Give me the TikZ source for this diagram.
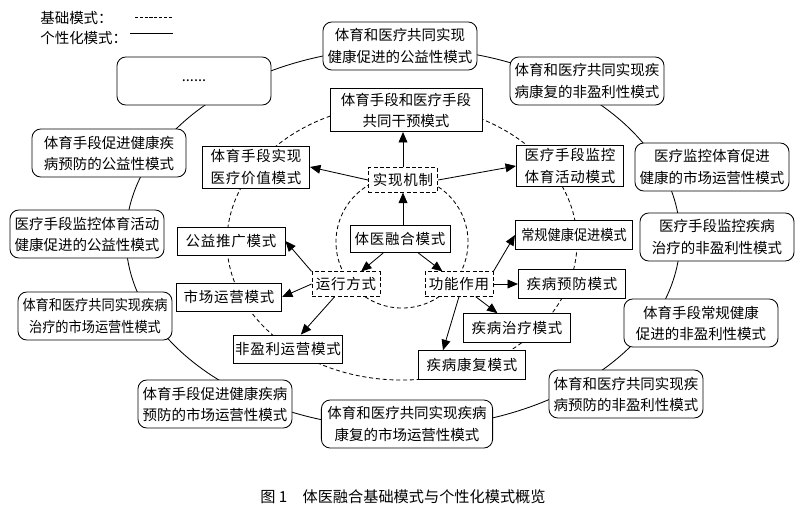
\documentclass[tikz,border=0pt]{standalone}
\usepackage{fontspec}
\setmainfont{Liberation Serif}
\newfontfamily\cjk{Noto Sans CJK SC}
\newfontfamily\cjknarrow{Noto Sans CJK SC}[FakeStretch=0.91]
\newfontfamily\cjkwide{Noto Sans CJK SC}[LetterSpace=5]
\usepackage{tikz}
\usetikzlibrary{positioning,shapes,arrows.meta}
\pgfdeclarelayer{background}
\pgfsetlayers{background,main}
\tikzstyle{outermode}=[rectangle, draw=black, line width=0.6pt, rounded corners=0.22cm, fill=white,
        text centered, align=center, minimum width=3.85cm, minimum height=1.2cm, inner sep=1pt,
        font=\cjk\fontsize{10.3}{15}\selectfont]
\tikzstyle{basemode}=[rectangle, draw=black, line width=0.6pt, fill=white,
        text centered, align=center, minimum width=2.68cm, minimum height=0.72cm, inner sep=1pt,
        font=\cjkwide\fontsize{10.3}{15}\selectfont]
\tikzstyle{core}=[basemode, dashed, dash pattern=on 1mm off 0.6mm, minimum width=1.7cm, minimum height=0.61cm]
\tikzstyle{line}=[line width=0.6pt, -{Triangle[length=2.6mm,width=2.2mm]}]
\tikzstyle{legend}=[anchor=west, inner sep=0pt, font=\cjk\fontsize{10.3}{15}\selectfont]

\begin{document}
\begin{tikzpicture}[x=0.025cm, y=-0.025cm]
\useasboundingbox (0,0) rectangle (800,515);

% legend
\node (legbase) [legend] at (40,18) {基础模式：};
\node (legind) [legend] at (40,38) {个性化模式：};
\coordinate (basea) at (135,17);
\coordinate (baseb) at (173,17);
\coordinate (inda) at (130,33);
\coordinate (indb) at (173,33);
\draw[line width=0.6pt, dash pattern=on 0.08cm off 0.04cm] (basea) -- (baseb);
\draw[line width=0.6pt] (inda) -- (indb);

% individual modes (outer ring)
\node (healthpub) [outermode] at (400,46) {体育和医疗共同实现\\健康促进的公益性模式};
\node (rehabnp) [outermode] at (587,81) {体育和医疗共同实现疾\\病康复的非盈利性模式};
\node (monmkt) [outermode] at (712,167) {医疗监控体育促进\\健康的市场运营性模式};
\node (treatnp) [outermode] at (717,237) {医疗手段监控疾病\\治疗的非盈利性模式};
\node (routinenp) [outermode] at (701,323) {体育手段常规健康\\促进的非盈利性模式};
\node (prevnp) [outermode] at (626,394) {体育和医疗共同实现疾\\病预防的非盈利性模式};
\node (rehabmkt) [outermode, minimum width=4.28cm] at (407,424) {体育和医疗共同实现疾病\\康复的市场运营性模式};
\node (prevmkt) [outermode] at (215,404) {体育手段促进健康疾病\\预防的市场运营性模式};
\node (treatmkt) [outermode, font=\cjknarrow\fontsize{10.3}{15}\selectfont] at (95,316) {体育和医疗共同实现疾病\\治疗的市场运营性模式};
\node (monpub) [outermode] at (87,234) {医疗手段监控体育活动\\健康促进的公益性模式};
\node (prevpub) [outermode] at (109,153) {体育手段促进健康疾\\病预防的公益性模式};
\node (others) [outermode] at (194,81) {......};

% basic modes (middle ring)
\node (jointint) [basemode, minimum width=3.8cm, minimum height=1.08cm, font=\cjk\fontsize{10.3}{15}\selectfont] at (406,110) {体育手段和医疗手段\\共同干预模式};
\node (sportmed) [basemode, minimum height=1.05cm] at (256,167) {体育手段实现\\医疗价值模式};
\node (medsport) [basemode, minimum height=1.04cm] at (570,166) {医疗手段监控\\体育活动模式};
\node (pubpromo) [basemode, minimum width=2.7cm, minimum height=0.7cm] at (231,241) {公益推广模式};
\node (market) [basemode, minimum width=2.63cm, minimum height=0.7cm] at (229,297) {市场运营模式};
\node (nonprofit) [basemode, minimum height=0.7cm] at (288,349) {非盈利运营模式};
\node (rehab) [basemode] at (472,365) {疾病康复模式};
\node (treat) [basemode] at (517,328) {疾病治疗模式};
\node (prevent) [basemode] at (572,284) {疾病预防模式};
\node (routine) [basemode, minimum width=2.93cm, font=\cjknarrow\fontsize{10.3}{15}\selectfont] at (574,235) {常规健康促进模式};

% core
\node (fusion) [basemode, minimum width=2.5cm, minimum height=0.68cm] at (400,239) {体医融合模式};
\node (mechanism) [core, minimum width=1.73cm] at (403,180) {实现机制};
\node (operation) [core] at (346,284) {运行方式};
\node (function) [core] at (459,284) {功能作用};

% draw lines
\draw[line] (fusion.north -| mechanism.south) -- (mechanism.south);
\draw[line] (mechanism.north) -- (mechanism.north |- jointint.south);
\draw[line] (mechanism.west) -- (sportmed.east);
\draw[line] (mechanism.east) -- (medsport.west);
\draw[line] (fusion) -- (operation);
\draw[line] (fusion) -- (function);
\draw[line] (operation.north west) -- (pubpromo.east);
\draw[line] (operation.west) -- (market.east);
\draw[line] (operation) -- (nonprofit);
\draw[line] (function.north east) -- (routine.west);
\draw[line] (function.east) -- (prevent.west);
\draw[line] (function) -- (treat);
\draw[line] (function.south) -- ([xshift=-0.725cm]rehab.north);

% rings
\begin{pgfonlayer}{background}
  \draw[line width=0.6pt] (403,238) ellipse [x radius=6.925cm, y radius=4.75cm];
  \draw[line width=0.6pt, dash pattern=on 1mm off 0.7mm] (402,242) ellipse [x radius=4.375cm, y radius=3.45cm];
  \draw[line width=0.6pt, dash pattern=on 1mm off 0.7mm] (402,242) circle [radius=1.65cm];
\end{pgfonlayer}

% caption
\node (caption) [font=\cjk\fontsize{10.8}{13}\selectfont] at (403,497) {图 1\quad 体医融合基础模式与个性化模式概览};

\end{tikzpicture}
\end{document}
